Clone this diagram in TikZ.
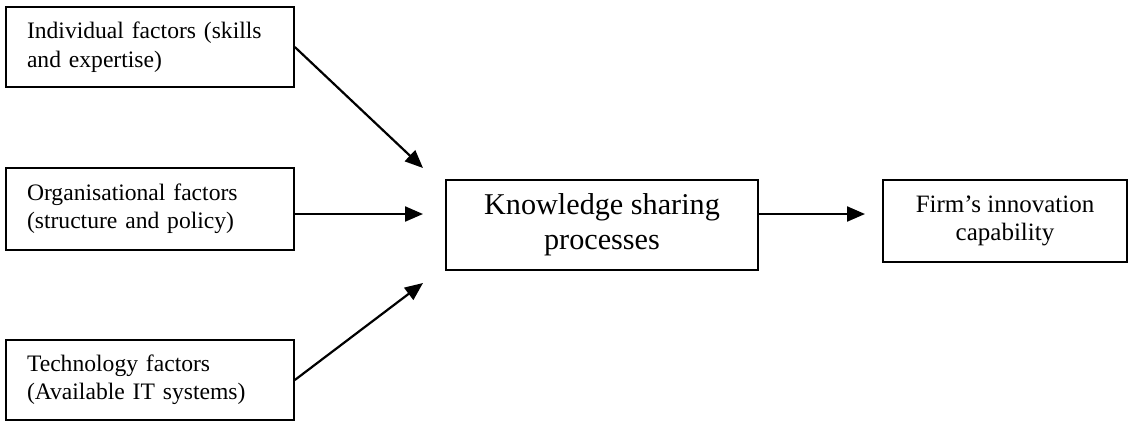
\documentclass[tikz,border=0pt]{standalone}
\usepackage{fontspec}
\setmainfont{Liberation Serif}
\usetikzlibrary{arrows.meta}

\begin{document}
\begin{tikzpicture}[x=0.5pt,y=-0.5pt,
    factor/.style={draw, line width=0.8pt, text width=123pt, inner xsep=10.5pt,
      minimum height=40pt, align=left, font=\fontsize{11.8}{14.2}\selectfont},
    mainbox/.style={draw, line width=0.8pt, minimum width=156pt, minimum height=45pt,
      align=center, font=\fontsize{15.1}{17.5}\selectfont},
    outbox/.style={draw, line width=0.8pt, minimum width=122pt, minimum height=41pt,
      align=center, font=\fontsize{12.5}{14}\selectfont},
    link/.style={line width=1.1pt, -{Triangle[length=9pt,width=7.5pt]}}]
  \useasboundingbox (0,0) rectangle (1144,424);
  \node[factor] (indiv) at (150,47) {Individual factors (skills\\and expertise)};
  \node[factor, minimum height=41pt] (organ) at (150,209) {Organisational factors\\(structure and policy)};
  \node[factor] (techn) at (150,380) {Technology factors\\(Available IT systems)};
  \node[mainbox] (ksp) at (602,225) {Knowledge sharing\\processes};
  \node[outbox] (firm) at (1005,221) {Firm's innovation\\capability};
  \coordinate (tipA) at (423,168);
  \coordinate (tipB) at (423,214);
  \coordinate (tipC) at (423,283);
  \coordinate (tipD) at (865,214);
  \draw[link] (indiv.east) -- (tipA);
  \draw[link] (organ.east |- tipB) -- (tipB);
  \draw[link] (techn.east) -- (tipC);
  \draw[link] (ksp.east |- tipD) -- (tipD);
\end{tikzpicture}
\end{document}
